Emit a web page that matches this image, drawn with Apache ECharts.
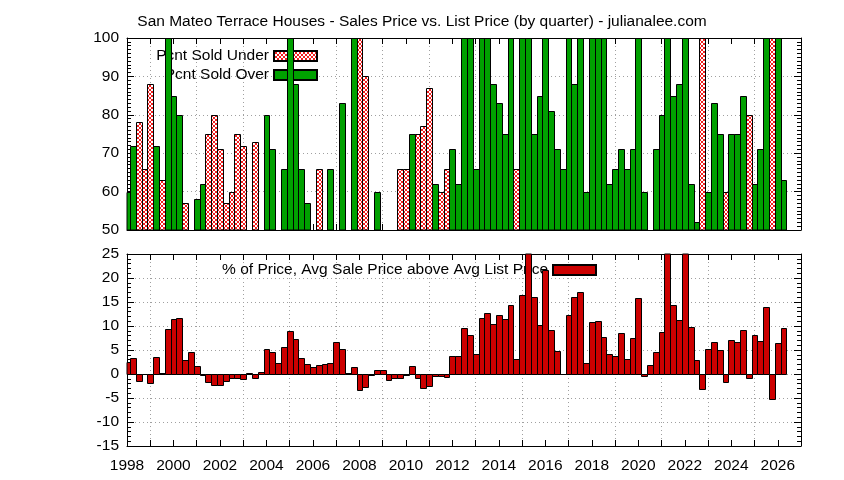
<!DOCTYPE html>
<html>
<head>
<meta charset="utf-8">
<script src="https://cdn.jsdelivr.net/npm/echarts@6/dist/echarts.min.js"></script>
<style>
  html, body { margin: 0; padding: 0; background: #fff; }
  #chart { width: 844px; height: 480px; }
</style>
</head>
<body>
<div id="chart"></div>
<script>
// quarterly data, first quarter = 1998 Q1, one entry per quarter
const startYear = 1998;

// share of sales sold over list (null = below the 50% floor, not drawn)
const pctSoldOver = [
  60, 72, null, null, null, 72, null, 100,
  85, 80, null, null, 58, 62, null, null,
  null, null, null, null, null, null, null, null,
  80, 71, null, 66, 100, 88, 66, 57,
  null, null, null, 66, null, 83, null, 100,
  null, null, null, 60, null, null, null, null,
  null, 75, null, null, null, 62, null, null,
  71, 62, 100, 100, 66, 100, 100, 88,
  83, 75, 100, null, 100, 100, 75, 85,
  100, 81, 71, 66, 100, 88, 100, 60,
  100, 100, 100, 62, 66, 71, 66, 71,
  100, 60, null, 71, 80, 100, 85, 88,
  100, 62, 52, null, 60, 83, 75, null,
  75, 75, 85, null, 62, 71, 100, null,
  100, 63
];

// share of sales sold under list
const pctSoldUnder = [
  null, null, 78, 66, 88, null, 63, null,
  null, null, 57, null, null, null, 75, 80,
  71, 57, 60, 75, 72, null, 73, null,
  null, null, null, null, null, null, null, null,
  null, 66, null, null, null, null, null, null,
  100, 90, null, null, null, null, null, 66,
  66, null, 75, 77, 87, null, 60, 66,
  null, null, null, null, null, null, null, null,
  null, null, null, 66, null, null, null, null,
  null, null, null, null, null, null, null, null,
  null, null, null, null, null, null, null, null,
  null, null, null, null, null, null, null, null,
  null, null, null, 100, null, null, null, 60,
  null, null, null, 80, null, null, null, 100,
  null, null
];

// avg sale price above avg list price, %
const pctAboveList = [
  2.5, 3.3, -1.4, 0, -1.8, 3.5, 0.2, 9.4,
  11.5, 11.7, 2.9, 4.6, 1.7, -0.3, -1.7, -2.3,
  -2.3, -1.5, -0.8, -0.8, -1.0, 0.2, -0.8, 0.4,
  5.2, 4.6, 2.3, 5.6, 9.0, 7.3, 3.3, 2.1,
  1.5, 1.9, 2.1, 2.3, 6.7, 5.2, 0.3, 1.5,
  -3.3, -2.7, -0.2, 0.8, 0.8, -1.3, -0.8, -0.8,
  -0.3, 1.7, -0.8, -2.9, -2.5, -0.4, -0.4, -0.6,
  3.7, 3.7, 9.6, 8.1, 4.2, 11.7, 12.7, 10.4,
  12.3, 11.5, 14.4, 3.1, 16.5, 26, 16.0, 10.2,
  21.7, 9.2, 4.8, 0, 12.3, 16.0, 17.1, 2.3,
  10.8, 11.0, 7.7, 4.2, 3.7, 8.5, 3.1, 7.5,
  15.8, -0.4, 1.9, 4.6, 8.7, 26, 14.4, 11.3,
  26, 9.8, 2.9, -3.1, 5.2, 6.7, 5.0, -1.7,
  7.1, 6.7, 9.2, -0.8, 8.1, 6.9, 14.0, -5.2,
  6.5, 9.6
];

const titleText = 'San Mateo Terrace Houses - Sales Price vs. List Price (by quarter) - julianalee.com';
const underName = 'Pcnt Sold Under';
const overName = 'Pcnt Sold Over';
const aboveName = '% of Price, Avg Sale Price above Avg List Price';

function toPoints( values ) {
	const pts = [];
	values.forEach( ( v, i ) => {
		if ( v !== null ) pts.push( [ startYear + i / 4, v ] );
	} );
	return pts;
}

// crosshatch fill like gnuplot's pattern
const hatch = document.createElement( 'canvas' );
hatch.width = 4;
hatch.height = 4;
const hctx = hatch.getContext( '2d' );
hctx.fillStyle = '#ffffff';
hctx.fillRect( 0, 0, 4, 4 );
hctx.fillStyle = '#f02020';
for ( let k = 0; k < 4; k++ ) {
	hctx.fillRect( k, k, 1, 1 );
	hctx.fillRect( 3 - k, k, 1, 1 );
}

const font = 'Liberation Sans';
const fontSize = 15.5;
const dotted = { color: '#a0a0a0', type: [ 1, 3 ], width: 1 };

// one box per quarter, from 0 up/down to the value, clipped to the plot
function renderBox( params, api ) {
	const x = api.value( 0 );
	const y = api.value( 1 );
	const a = api.coord( [ x - 0.125, y ] );
	const b = api.coord( [ x + 0.125, 0 ] );
	const x0 = Math.round( a[ 0 ] ) + 0.5;
	const x1 = Math.round( b[ 0 ] ) + 0.5;
	const y0 = Math.round( Math.min( a[ 1 ], b[ 1 ] ) ) + 0.5;
	const y1 = Math.round( Math.max( a[ 1 ], b[ 1 ] ) ) + 0.5;
	const cs = params.coordSys;
	const shape = echarts.graphic.clipRectByRect(
		{ x: x0, y: y0, width: x1 - x0, height: y1 - y0 },
		{ x: cs.x, y: cs.y, width: cs.width, height: cs.height }
	);
	if ( !shape ) return null;
	return { type: 'rect', shape: shape, style: api.style() };
}

function xAxis( gridIndex, position, showLabels ) {
	return {
		type: 'value', gridIndex: gridIndex, position: position,
		min: 1998, max: 2027, interval: 1,
		axisLine: { show: true, onZero: false, lineStyle: { color: '#000', width: 1 } },
		axisTick: { show: true, inside: true, length: 6, lineStyle: { color: '#000' } },
		axisLabel: {
			show: showLabels, margin: 12, fontSize: fontSize, color: '#000', fontFamily: font,
			formatter: v => ( v % 2 === 0 ? String( v ) : '' )
		},
		splitLine: {
			show: position === 'bottom',
			lineStyle: { color: [ 'rgba(0,0,0,0)', '#a0a0a0' ], type: [ 1, 3 ], width: 1 }
		}
	};
}

function yAxis( gridIndex, position, min, max, step, minorSplit ) {
	const left = position === 'left';
	return {
		type: 'value', gridIndex: gridIndex, position: position,
		min: min, max: max, interval: step,
		axisLine: { show: true, onZero: false, lineStyle: { color: '#000', width: 1 } },
		axisTick: { show: true, inside: true, length: 7, lineStyle: { color: '#000' } },
		minorTick: { show: true, splitNumber: minorSplit, length: 4, lineStyle: { color: '#000' } },
		axisLabel: { show: left, margin: 8, fontSize: fontSize, color: '#000', fontFamily: font },
		splitLine: { show: left, lineStyle: dotted }
	};
}

function legend( name, right, top ) {
	return {
		data: [ name ], right: right, top: top, z: 1,
		align: 'right', padding: 0, itemWidth: 43, itemHeight: 10, itemGap: 8,
		icon: 'rect', selectedMode: false,
		textStyle: { fontSize: fontSize, color: '#000', fontFamily: font }
	};
}

function boxSeries( name, xi, yi, values, style ) {
	return {
		name: name, type: 'custom', xAxisIndex: xi, yAxisIndex: yi,
		renderItem: renderBox, itemStyle: style,
		encode: { x: 0, y: 1 },
		data: toPoints( values )
	};
}

const chart = echarts.init( document.getElementById( 'chart' ), null, { renderer: 'canvas' } );

chart.setOption( {
	animation: false,
	backgroundColor: '#fff',
	textStyle: { fontFamily: font },
	title: {
		text: titleText, left: 'center', top: 9,
		textStyle: { fontSize: fontSize, fontWeight: 'normal', color: '#000', fontFamily: font }
	},
	grid: [
		{ left: 127, right: 43, top: 38, height: 192 },
		{ left: 127, right: 43, top: 254, height: 192 }
	],
	legend: [
		legend( underName, 526, 48 ),
		legend( overName, 526, 67 ),
		legend( aboveName, 247, 262 )
	],
	xAxis: [
		xAxis( 0, 'bottom', false ),
		xAxis( 0, 'top', false ),
		xAxis( 1, 'bottom', true ),
		xAxis( 1, 'top', false )
	],
	yAxis: [
		yAxis( 0, 'left', 50, 100, 10, 10 ),
		yAxis( 0, 'right', 50, 100, 10, 10 ),
		yAxis( 1, 'left', -15, 25, 5, 5 ),
		yAxis( 1, 'right', -15, 25, 5, 5 )
	],
	series: [
		boxSeries( underName, 0, 0, pctSoldUnder,
			{ color: { image: hatch, repeat: 'repeat' }, borderColor: '#000', borderWidth: 1 } ),
		boxSeries( overName, 0, 0, pctSoldOver,
			{ color: '#00a000', borderColor: '#000', borderWidth: 1 } ),
		boxSeries( aboveName, 2, 2, pctAboveList,
			{ color: '#cc0000', borderColor: '#000', borderWidth: 1 } )
	]
} );
</script>
</body>
</html>
